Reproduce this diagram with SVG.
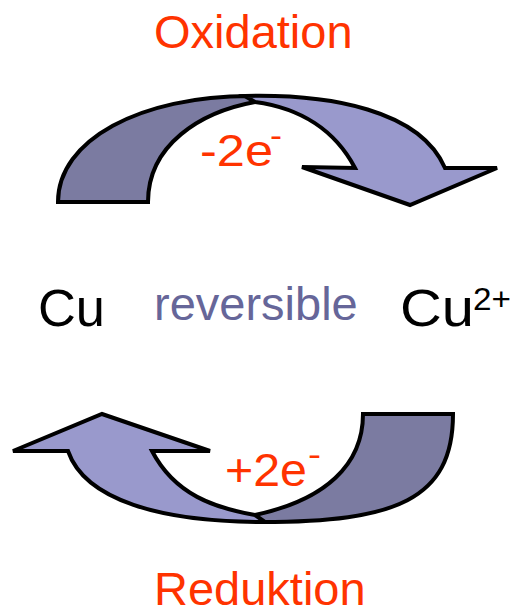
<svg xmlns="http://www.w3.org/2000/svg" width="514" height="610" viewBox="0 0 514 610">
<style>
.dark{fill:#7B7BA1;stroke:#000;stroke-width:4;stroke-linejoin:miter}
.light{fill:#9999CC;stroke:#000;stroke-width:4;stroke-linejoin:miter}
text{font-family:"Liberation Sans",Arial,sans-serif}
.red{fill:#FF3300}
.blk{fill:#000}
.rev{fill:#666699}
</style>
<rect width="514" height="610" fill="#fff"/>
<g id="connectors">
<g id="oxidation-arrow">
<path class="dark" d="M58,202 C58,140 140,96 250,96 L255,102 C200,112 148,145 148,202 Z"/>
<path class="light" d="M245,96 C330,94 420,110 445,168 L497,168 L410,205 L302,167 L355,168 C335,130 300,108 255,102 Z"/>
</g>
<g id="reduction-arrow">
<path class="dark" d="M453,414 C453,500 395,522 262,522 L255,515 C325,500 363,465 363,414 Z"/>
<path class="light" d="M265,522 C160,522 85,500 68,451 L13,451 L102,414 L210,451 L152,451 C175,495 215,508 255,515 Z"/>
</g>
</g>
<g id="label-oxidation"><text class="red" x="154" y="48" font-size="47">Oxidation</text></g>
<g id="label-minus2e">
<text class="red" x="200" y="166" font-size="44" textLength="73" lengthAdjust="spacingAndGlyphs">-2e</text>
<text class="red" x="270" y="146" font-size="31" textLength="12" lengthAdjust="spacingAndGlyphs">-</text>
</g>
<g id="node-cu"><text class="blk" x="38" y="326" font-size="51" textLength="67" lengthAdjust="spacingAndGlyphs">Cu</text></g>
<g id="label-reversible"><text class="rev" x="154" y="320" font-size="47">reversible</text></g>
<g id="node-cu2">
<text class="blk" x="400" y="326" font-size="51" textLength="74" lengthAdjust="spacingAndGlyphs">Cu</text>
<text class="blk" x="473" y="310" font-size="31" textLength="38" lengthAdjust="spacingAndGlyphs">2+</text>
</g>
<g id="label-plus2e">
<text class="red" x="225" y="486" font-size="46" textLength="82" lengthAdjust="spacingAndGlyphs">+2e</text>
<text class="red" x="308" y="465" font-size="31" textLength="13" lengthAdjust="spacingAndGlyphs">-</text>
</g>
<g id="label-reduktion"><text class="red" x="154" y="605" font-size="47">Reduktion</text></g>
</svg>
